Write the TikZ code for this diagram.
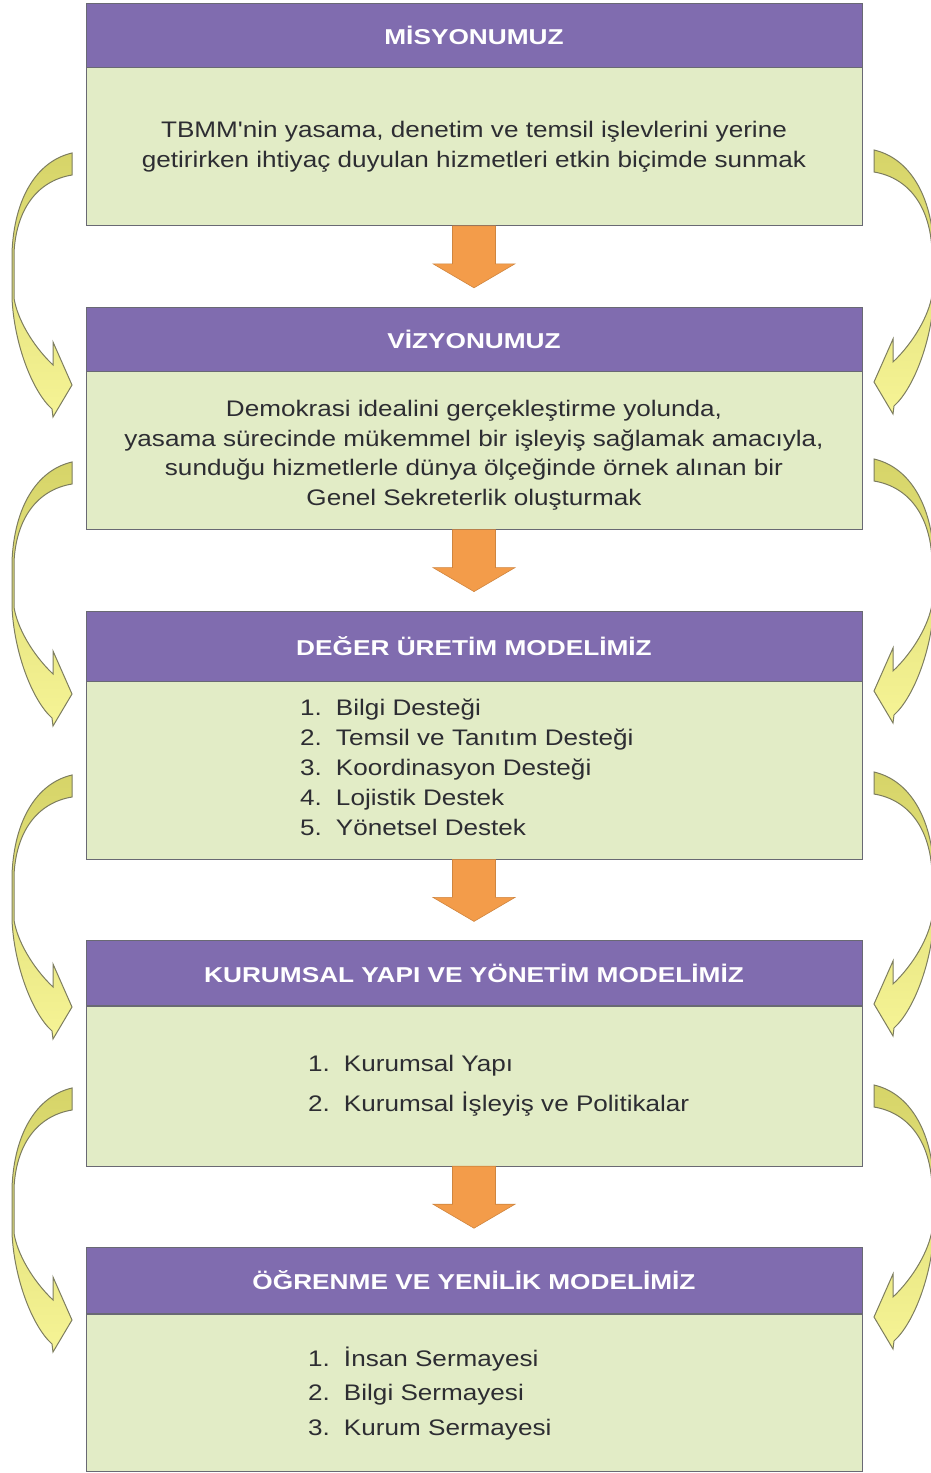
\documentclass[tikz,border=0pt]{standalone}
\usepackage{fontspec}
\usetikzlibrary{positioning}
\setmainfont{Liberation Sans}
\newfontfamily\corpofont[FakeStretch=1.16]{Liberation Sans}
\newfontfamily\testafont[FakeStretch=1.22]{Liberation Sans}
\definecolor{viola}{RGB}{128,108,175}
\definecolor{verdino}{RGB}{226,236,198}
\definecolor{bordo}{RGB}{105,105,115}
\definecolor{arancio}{RGB}{243,156,74}
\definecolor{giallo}{RGB}{246,244,150}
\definecolor{giallotop}{RGB}{214,212,104}
\definecolor{oliva}{RGB}{125,125,95}
\definecolor{testo}{RGB}{45,45,50}
\tikzset{
  testa/.style={draw=bordo, fill=viola, text=white, minimum width=776pt, inner sep=0pt,
    font=\testafont\bfseries\fontsize{21.5}{26}\selectfont},
  corpo/.style={draw=bordo, fill=verdino, text=testo, minimum width=776pt, inner sep=0pt,
    align=center, font=\corpofont\fontsize{22.5}{29.5}\selectfont},
  elenco/.style={anchor=west, text=testo, inner sep=0pt, align=left,
    font=\corpofont\fontsize{22.5}{#1}\selectfont},
  freccia/.style={draw=arancio!85!black, fill=arancio, line width=0.6pt},
  curva/.style={draw=oliva, line width=1pt, top color=giallotop, bottom color=giallo},
  curvafreccia/.pic={
    \path[curva] (0,0) .. controls (-35,8) and (-58,45) .. (-60,100) -- (-60,145)
      .. controls (-58,190) and (-40,238) .. (-20,256) -- (-19,264) -- (0,232)
      -- (-19,189) -- (-19,212) .. controls (-40,192) and (-55,165) .. (-58,145)
      -- (-58,100) .. controls (-56,58) and (-36,28) .. (0,22) -- cycle;
  }
}
\newcommand{\voce}[2]{\makebox[36pt][l]{#1.}#2}
\newcommand{\frecciagiu}[1]{%
  \draw[freccia] ([xshift=-21.5pt]#1.south) -- ++(0,38) -- ++(-19.5,0) -- ++(41,24)
    -- ++(41,-24) -- ++(-19.5,0) -- ++(0,-38) -- cycle;}
\begin{document}
\begin{tikzpicture}[x=1pt, y=-1pt, node distance=81pt]
    \useasboundingbox (0,0) rectangle (931,1473);

    % --- Riquadro 1 (Missione) ---
    \node[testa, anchor=north, minimum height=64pt] (mis-h) at (474,3) {MİSYONUMUZ};
    \node[corpo, below=0pt of mis-h, minimum height=158pt] (mis-b)
        {TBMM'nin yasama, denetim ve temsil işlevlerini yerine\\
         getirirken ihtiyaç duyulan hizmetleri etkin biçimde sunmak};

    % --- Riquadro 2 (Visione) ---
    \node[testa, below=of mis-b, minimum height=64pt] (viz-h) {VİZYONUMUZ};
    \node[corpo, below=0pt of viz-h, minimum height=158pt] (viz-b) {};
    \node[corpo, draw=none, fill=none, minimum width=0pt] (viz-t) at ([yshift=-5pt]viz-b.center)
        {Demokrasi idealini gerçekleştirme yolunda,\\
         yasama sürecinde mükemmel bir işleyiş sağlamak amacıyla,\\
         sunduğu hizmetlerle dünya ölçeğinde örnek alınan bir\\
         Genel Sekreterlik oluşturmak};

    % --- Riquadro 3 (Valore) ---
    \node[testa, below=of viz-b, minimum height=70pt] (deg-h) {DEĞER ÜRETİM MODELİMİZ};
    \node[corpo, below=0pt of deg-h, minimum height=178pt] (deg-b) {};
    \node[elenco=30pt] (deg-l) at ([xshift=214pt, yshift=3pt]deg-b.west)
        {\voce{1}{Bilgi Desteği}\\
         \voce{2}{Temsil ve Tanıtım Desteği}\\
         \voce{3}{Koordinasyon Desteği}\\
         \voce{4}{Lojistik Destek}\\
         \voce{5}{Yönetsel Destek}};

    % --- Riquadro 4 (Struttura) ---
    \node[testa, below=of deg-b, minimum height=65pt] (kur-h) {KURUMSAL YAPI VE YÖNETİM MODELİMİZ};
    \node[corpo, below=0pt of kur-h, minimum height=160pt] (kur-b) {};
    \node[elenco=40pt] (kur-l) at ([xshift=222pt]kur-b.west)
        {\voce{1}{Kurumsal Yapı}\\
         \voce{2}{Kurumsal İşleyiş ve Politikalar}};

    % --- Riquadro 5 (Apprendimento) ---
    \node[testa, below=of kur-b, minimum height=66pt] (ogr-h) {ÖĞRENME VE YENİLİK MODELİMİZ};
    \node[corpo, below=0pt of ogr-h, minimum height=157pt] (ogr-b) {};
    \node[elenco=34.5pt] (ogr-l) at ([xshift=222pt, yshift=-1pt]ogr-b.west)
        {\voce{1}{İnsan Sermayesi}\\
         \voce{2}{Bilgi Sermayesi}\\
         \voce{3}{Kurum Sermayesi}};

    % --- Frecce arancioni ---
    \frecciagiu{mis-b}
    \frecciagiu{viz-b}
    \frecciagiu{deg-b}
    \frecciagiu{kur-b}

    % --- Frecce curve (sinistra e destra) ---
    \foreach \y in {153,462,775,1088} {
        \pic at (72,\y) {curvafreccia};
        \pic[xscale=-1] at (874,\y-3) {curvafreccia};
    }
\end{tikzpicture}
\end{document}
